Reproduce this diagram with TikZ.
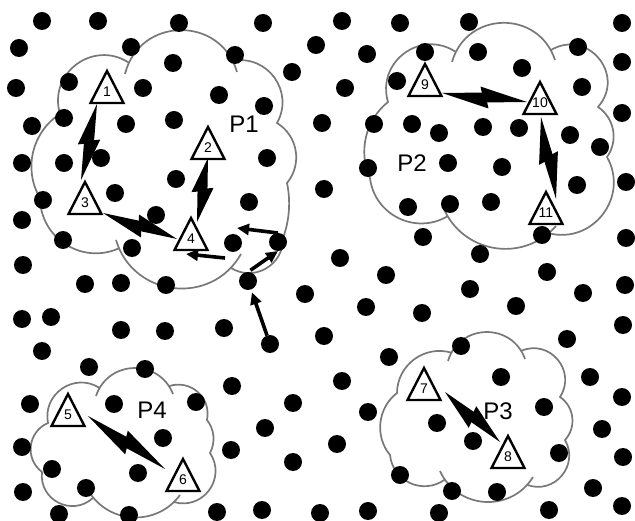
\documentclass[tikz,border=0pt]{standalone}
\usepackage{fontspec}
\setmainfont{Liberation Sans}
\usetikzlibrary{calc,arrows.meta}
\definecolor{cloudgray}{RGB}{120,120,120}
\tikzset{
 dot/.style={circle,fill=black,minimum size=18pt,inner sep=0pt,outer sep=0pt},
 cl/.style={draw=cloudgray,line width=1.7pt},
 pf/.style 2 args={bend left=#1,looseness=#2},
 tri/.style={draw=black,fill=white,line width=2.4pt,line join=miter},
 num/.style={font=\fontsize{14}{14}\selectfont,inner sep=0pt},
 lbl/.style={font=\fontsize{24}{24}\selectfont,inner sep=0pt},
 arr/.style={line width=3.6pt,-{Triangle[length=12pt,width=11pt]}},
}
\newcommand\trinode[4]{%
 \coordinate (#1) at (#2,#3);
 \filldraw[tri] ($(#1)+(0,-21)$) -- ($(#1)+(16.5,11)$) -- ($(#1)+(-16.5,11)$) -- cycle;
 \node[num] (#1n) at (#1) {#4};}
\newcommand\zap[2]{%
 \fill (#1) -- ($(#1)!0.56!(#2)!10.5pt!-90:(#2)$) -- ($(#1)!0.5!(#2)!5pt!90:(#2)$) -- cycle;
 \fill ($(#1)!0.5!(#2)!5pt!-90:(#2)$) -- ($(#1)!0.44!(#2)!10.5pt!90:(#2)$) -- (#2) -- cycle;}
\begin{document}
\begin{tikzpicture}[x=1pt,y=-1pt]
\useasboundingbox (0,0) rectangle (635,521);
\fill[white] (0,0) rectangle (635,521);
% ---- cloud P1
\draw[cl] (125,74) to[pf={75}{1.35}] coordinate[pos=0.07] (p1a) coordinate[pos=0.93] (p1b) (237,72);
\draw[cl] (241,254) to[pf={67}{1.22}] coordinate[pos=0.1] (p1c) coordinate[pos=0.95] (p1d) (116,240);
\draw[cl] (60,114) to[pf={70}{1.27}] (p1a);
\draw[cl] (p1b) to[pf={65}{1.2}] (277,123) to[pf={49}{1.03}] (287,183) to[pf={16}{0.87}] (283,238) to[pf={62}{1.16}] (p1c);
\draw[cl] (p1d) to[pf={57}{1.1}] (40,198) to[pf={44}{0.99}] (60,114);
% ---- cloud P2
\draw[cl] (452,62) to[pf={73}{1.32}] coordinate[pos=0.07] (p2a) coordinate[pos=0.93] (p2b) (555,60);
\draw[cl] (556,226) to[pf={58}{1.12}] coordinate[pos=0.07] (p2c) coordinate[pos=0.93] (p2d) (443,207);
\draw[cl] (p2b) to[pf={81}{1.48}] (598,107) to[pf={46}{1.0}] (607,157) to[pf={67}{1.22}] (p2c);
\draw[cl] (p2d) to[pf={57}{1.1}] (370,178) to[pf={38}{0.95}] (388,102) to[pf={70}{1.27}] (p2a);
% ---- cloud P3
\draw[cl] (448,361) to[pf={72}{1.3}] coordinate[pos=0.08] (p3a) coordinate[pos=0.92] (p3b) (525,359);
\draw[cl] (533,477) to[pf={62}{1.16}] coordinate[pos=0.08] (p3c) coordinate[pos=0.92] (p3d) (440,471);
\draw[cl] (p3b) to[pf={73}{1.32}] (560,397) to[pf={49}{1.03}] (565,440) to[pf={70}{1.27}] (p3c);
\draw[cl] (p3d) to[pf={60}{1.14}] (390,455) to[pf={46}{1.0}] (397,393) to[pf={53}{1.06}] (p3a);
% ---- cloud P4
\draw[cl] (96,396) to[pf={70}{1.27}] coordinate[pos=0.08] (p4a) coordinate[pos=0.92] (p4b) (173,394);
\draw[cl] (180,495) to[pf={57}{1.1}] coordinate[pos=0.08] (p4c) coordinate[pos=0.92] (p4d) (88,490);
\draw[cl] (p4b) to[pf={60}{1.14}] (207,420) to[pf={33}{0.93}] (210,453) to[pf={70}{1.27}] (p4c);
\draw[cl] (p4d) to[pf={70}{1.27}] (42,472) to[pf={60}{1.14}] (48,423) to[pf={67}{1.22}] (p4a);
% ---- dots
\foreach \x/\y [count=\i] in {
42/21,98/21,179/23,263/23,342/21,400/23,469/22,622/23,
19/48,131/47,235/55,316/45,173/63,292/72,367/54,425/52,478/52,578/47,622/62,522/68,
16/88,69/82,143/88,219/95,264/106,345/88,397/81,582/87,622/113,
32/126,64/118,126/124,174/120,322/123,374/124,412/124,439/133,483/127,519/128,570/135,600/147,
22/163,64/163,101/158,267/158,368/168,448/163,502/167,
176/179,115/193,43/200,249/202,324/189,577/185,626/182,
22/220,156/215,408/207,450/204,491/202,
63/240,132/248,542/235,423/237,626/238,
340/258,480/254,23/265,
85/284,121/283,166/285,305/294,22/319,51/317,121/330,165/331,224/328,324/336,
42/351,89/367,145/369,232/386,30/404,114/404,196/402,293/403,163/438,265/428,
22/447,231/450,293/462,52/469,138/473,86/488,23/492,59/514,129/515,217/512,262/510,320/513,
386/275,547/272,470/289,625/285,583/293,366/307,422/313,516/306,623/325,567/339,
389/357,461/346,342/381,501/377,590/377,622/397,368/412,544/407,437/423,473/441,
602/429,337/444,559/453,623/457,400/475,452/491,497/492,593/488,622/506,368/511,439/513,549/510}
 \node[dot] (d\i) at (\x,\y) {};
\node[dot] (m1) at (270,344) {};
\node[dot] (m2) at (248,281) {};
\node[dot] (m3) at (278,242) {};
\node[dot] (m4) at (233,243) {};
% ---- triangles
\trinode{t1}{107}{92}{1}
\trinode{t2}{208}{148}{2}
\trinode{t3}{85}{203}{3}
\trinode{t4}{191}{239}{4}
\trinode{t5}{68}{415}{5}
\trinode{t6}{183}{480}{6}
\trinode{t7}{424}{389}{7}
\trinode{t8}{508}{457}{8}
\trinode{t9}{425}{85}{9}
\trinode{t10}{540}{103}{10}
\trinode{t11}{546}{213}{11}
% ---- bolts
\coordinate (b13s) at (97,104);  \coordinate (b13e) at (81,180);
\coordinate (b24s) at (208,158); \coordinate (b24e) at (197,222);
\coordinate (b34s) at (103,213); \coordinate (b34e) at (177,239);
\coordinate (b910s) at (442,93); \coordinate (b910e) at (527,102);
\coordinate (b1011s) at (541,117); \coordinate (b1011e) at (556,199);
\coordinate (b56s) at (88,416);  \coordinate (b56e) at (165,469);
\coordinate (b78s) at (445,392); \coordinate (b78e) at (500,442);
\zap{b13s}{b13e}
\zap{b24s}{b24e}
\zap{b34s}{b34e}
\zap{b910s}{b910e}
\zap{b1011s}{b1011e}
\zap{b56s}{b56e}
\zap{b78s}{b78e}
% ---- labels
\node[lbl] (lp1) at (244,124) {P1};
\node[lbl] (lp2) at (412,163) {P2};
\node[lbl] (lp3) at (498,411) {P3};
\node[lbl] (lp4) at (152,410) {P4};
% ---- arrows
\coordinate (h3) at (237,228);
\coordinate (h4) at (186,254);
\draw[arr,shorten >=3pt] (m1) -- (m2);
\draw[arr,shorten <=3pt] (m2.north) -- (m3.south);
\draw[arr] (m3.north) -- (h3);
\draw[arr] ([shift={(-8,6)}]m4.south) -- (h4);
\end{tikzpicture}
\end{document}
